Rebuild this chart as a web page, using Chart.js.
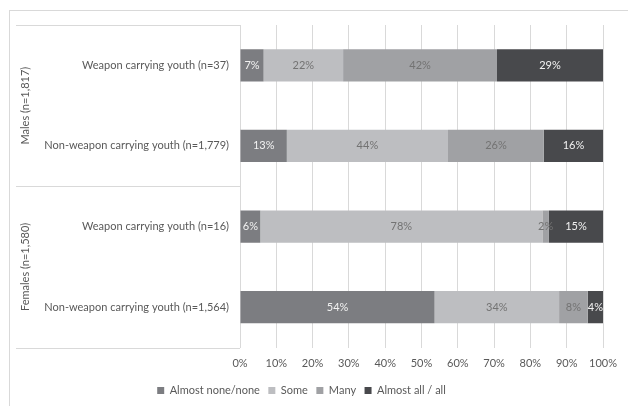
<!DOCTYPE html>
<html lang="en">
<head>
  <meta charset="UTF-8">
  <title>Weapon carrying youth</title>
  <script src="https://cdn.jsdelivr.net/npm/chart.js"></script>
  <style>
    body {
      margin: 0;
      padding: 0;
      background: #ffffff;
    }
    .frame {
      position: absolute;
      left: 9px;
      top: 10px;
      width: 640px;
      height: 420px;
      border-left: 1px solid #d9d9d9;
      border-top: 1px solid #d9d9d9;
    }
    .wrap {
      position: absolute;
      left: 0;
      top: 0;
      width: 628px;
      height: 406px;
    }
  </style>
</head>
<body>
<div class="frame"></div>
<div class="wrap"><canvas id="chart"></canvas></div>

<script>
  // rows, top to bottom
  const rowLabels = [
    "Weapon carrying youth (n=37)",
    "Non-weapon carrying youth (n=1,779)",
    "Weapon carrying youth (n=16)",
    "Non-weapon carrying youth (n=1,564)"
  ];
  const groupLabels = ["Males (n=1,817)", "Females (n=1,580)"];

  // share of friends, percent
  const almostNone = [6.5, 12.9, 5.6, 53.6];
  const some       = [21.9, 44.4, 77.7, 34.3];
  const many       = [42.4, 26.4, 1.8, 7.9];
  const almostAll  = [29.2, 16.3, 14.9, 4.2];

  const seriesNames = ["Almost none/none", "Some", "Many", "Almost all / all"];
  const xTicks = [0, 10, 20, 30, 40, 50, 60, 70, 80, 90, 100];

  const fontFam = "Lato, 'Liberation Sans', sans-serif";
  const textGray = "#595959";

  // draws the % value in the middle of each segment
  const barLabels = {
    id: "barLabels",
    afterDatasetsDraw(chart) {
      const ctx = chart.ctx;
      ctx.save();
      ctx.font = "11px " + fontFam;
      ctx.textAlign = "center";
      ctx.textBaseline = "middle";
      chart.data.datasets.forEach((ds, i) => {
        const meta = chart.getDatasetMeta(i);
        meta.data.forEach((bar, j) => {
          const cx = (bar.x + bar.base) / 2;
          ctx.fillStyle = ds.labelColor;
          ctx.fillText(Math.round(ds.data[j]) + "%", cx, bar.y);
        });
      });
      ctx.restore();
    }
  };

  // group boxes on the left: separator lines + rotated labels
  const groupBoxes = {
    id: "groupBoxes",
    afterDraw(chart) {
      const ctx = chart.ctx;
      const area = chart.chartArea;
      const mid = (area.top + area.bottom) / 2;
      ctx.save();
      ctx.strokeStyle = "#d9d9d9";
      ctx.lineWidth = 1;
      [area.top, mid, area.bottom].forEach(y => {
        const yy = Math.round(y) + 0.5;
        ctx.beginPath();
        ctx.moveTo(16, yy);
        ctx.lineTo(area.left, yy);
        ctx.stroke();
      });
      ctx.fillStyle = textGray;
      ctx.font = "11px " + fontFam;
      ctx.textAlign = "center";
      ctx.textBaseline = "middle";
      const centers = [(area.top + mid) / 2, (mid + area.bottom) / 2];
      groupLabels.forEach((t, i) => {
        ctx.save();
        ctx.translate(25, centers[i]);
        ctx.rotate(-Math.PI / 2);
        ctx.fillText(t, 0, 0);
        ctx.restore();
      });
      ctx.restore();
    }
  };

  const ctx = document.getElementById("chart").getContext("2d");
  new Chart(ctx, {
    type: "bar",
    data: {
      labels: rowLabels,
      datasets: [
        { label: seriesNames[0], data: almostNone, backgroundColor: "#7c7d81", labelColor: "#f2f2f2" },
        { label: seriesNames[1], data: some, backgroundColor: "#bdbec1", labelColor: "#737373" },
        { label: seriesNames[2], data: many, backgroundColor: "#a0a1a4", labelColor: "#737373" },
        { label: seriesNames[3], data: almostAll, backgroundColor: "#48494c", labelColor: "#f2f2f2" }
      ]
    },
    options: {
      indexAxis: "y",
      responsive: true,
      maintainAspectRatio: false,
      animation: false,
      datasets: {
        bar: { barPercentage: 0.4, categoryPercentage: 1.0, borderWidth: 0 }
      },
      layout: { padding: { top: 25, right: 25, bottom: 0, left: 0 } },
      plugins: {
        legend: {
          position: "bottom",
          labels: {
            boxWidth: 7,
            boxHeight: 7,
            padding: 8.5,
            color: textGray,
            font: { family: fontFam, size: 11 }
          }
        },
        tooltip: { enabled: false }
      },
      scales: {
        x: {
          stacked: true,
          min: 0,
          max: 100,
          afterBuildTicks(scale) {
            scale.ticks = xTicks.map(v => ({ value: v }));
          },
          ticks: {
            callback: v => v + "%",
            color: textGray,
            padding: 9,
            font: { family: fontFam, size: 11 }
          },
          grid: { color: "#d9d9d9", drawTicks: false },
          border: { display: false },
          afterFit(scale) { scale.height = 29; }
        },
        y: {
          stacked: true,
          ticks: {
            color: textGray,
            padding: 11,
            font: { family: fontFam, size: 11 }
          },
          grid: { display: false, drawTicks: false },
          border: { display: false },
          afterFit(scale) { scale.width = 240; }
        }
      }
    },
    plugins: [barLabels, groupBoxes]
  });
</script>
</body>
</html>
